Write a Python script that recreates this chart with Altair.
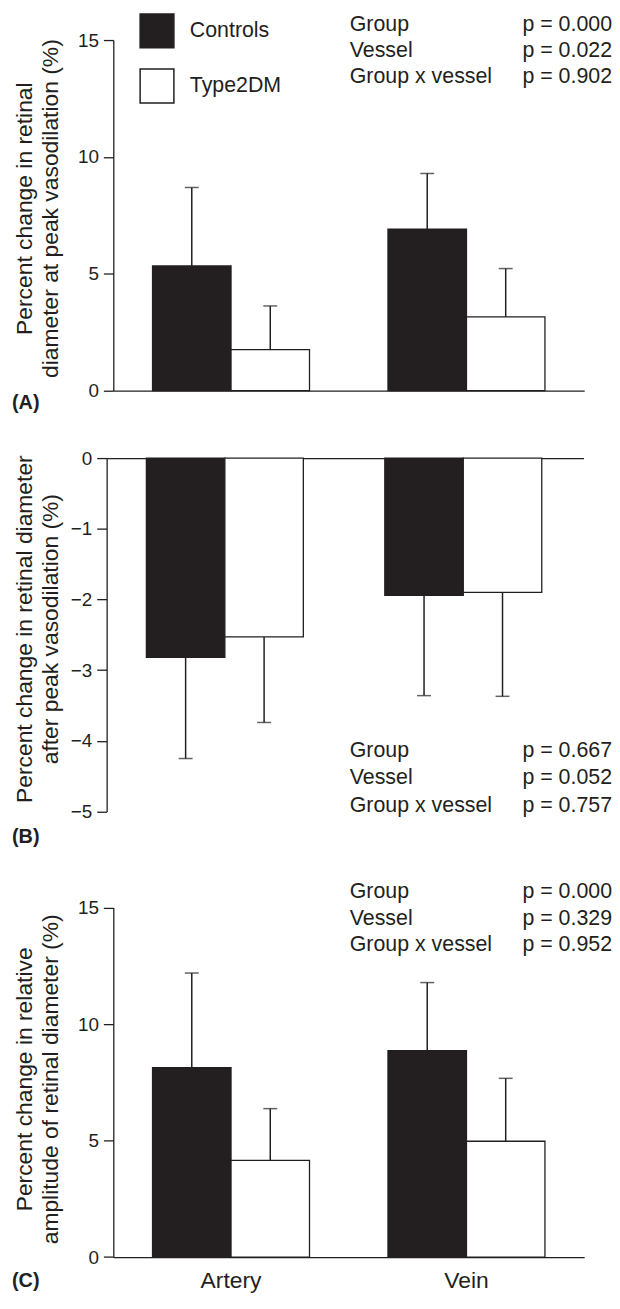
import altair as alt
import pandas as pd

INK = "#231f20"
FONT = "Liberation Sans"

vessels = ["Artery", "Vein"]
groups = ["Controls", "Type2DM"]
effects = ["Group", "Vessel", "Group x vessel"]

# Panel A: percent change at peak vasodilation
a_ctrl_mean = [5.33, 6.91]
a_ctrl_sd = [3.36, 2.38]
a_t2_mean = [1.75, 3.15]
a_t2_sd = [1.87, 2.07]
a_p = ["0.000", "0.022", "0.902"]

# Panel B: percent change after peak vasodilation
b_ctrl_mean = [-2.82, -1.94]
b_ctrl_sd = [1.43, 1.42]
b_t2_mean = [-2.53, -1.90]
b_t2_sd = [1.21, 1.47]
b_p = ["0.667", "0.052", "0.757"]

# Panel C: relative amplitude
c_ctrl_mean = [8.13, 8.86]
c_ctrl_sd = [4.06, 2.92]
c_t2_mean = [4.15, 4.97]
c_t2_sd = [2.22, 2.70]
c_p = ["0.000", "0.329", "0.952"]


def build_df(cm, cs, tm, ts, sign):
    rows = []
    for i, v in enumerate(vessels):
        rows.append({"vessel": v, "group": groups[0], "mean": cm[i], "end": cm[i] + sign * cs[i]})
        rows.append({"vessel": v, "group": groups[1], "mean": tm[i], "end": tm[i] + sign * ts[i]})
    return pd.DataFrame(rows)


def panel(df, ydom, yvals, ytitle, height, yrange, xrange, yoffset, title_x, title_y,
          x_orient, x_labels, legend, pvals, text_y, line_h, tag, tag_y):
    xs_kw = dict(domain=vessels, paddingInner=1 / 3, paddingOuter=1 / 6)
    if xrange is not None:
        xs_kw["range"] = xrange
    xs = alt.Scale(**xs_kw)
    ys_kw = dict(domain=ydom, nice=False, zero=False)
    if yrange is not None:
        ys_kw["range"] = yrange
    ys = alt.Scale(**ys_kw)
    xo = alt.XOffset("group:N", scale=alt.Scale(domain=groups, paddingInner=0, paddingOuter=0))

    xaxis = alt.Axis(orient=x_orient, title=None, labels=x_labels, ticks=False, domain=True,
                     domainColor=INK, domainWidth=1.3, labelFont=FONT, labelFontSize=23,
                     labelColor=INK, labelPadding=12.6, labelAngle=0, grid=False)
    yaxis = alt.Axis(values=yvals, title=ytitle, titleX=title_x, titleY=title_y,
                     titleAlign="center", titleBaseline="alphabetic", titleLineHeight=26,
                     titleFont=FONT, titleFontSize=23, titleFontWeight="normal", titleColor=INK,
                     labelFont=FONT, labelFontSize=19, labelColor=INK, labelPadding=5,
                     tickSize=10, tickWidth=1.3, tickColor=INK, domainColor=INK, domainWidth=1.3,
                     grid=False, offset=yoffset)
    X = alt.X("vessel:N", scale=xs, axis=xaxis, sort=vessels)

    base = alt.Chart(df)
    bars = base.mark_bar(stroke=INK, strokeWidth=1.3).encode(
        x=X,
        xOffset=xo,
        y=alt.Y("mean:Q", scale=ys, axis=yaxis),
        fill=alt.Fill("group:N", scale=alt.Scale(domain=groups, range=[INK, "white"]), legend=legend),
    )
    rules = base.mark_rule(color=INK, strokeWidth=1.5).encode(
        x=X,
        xOffset=xo,
        y=alt.Y("mean:Q", scale=ys, axis=yaxis),
        y2="end:Q",
    )
    caps = base.mark_tick(color=INK, thickness=1.5, size=14, orient="horizontal").encode(
        x=X,
        xOffset=xo,
        y=alt.Y("end:Q", scale=ys, axis=yaxis),
    )
    names = alt.Chart(pd.DataFrame({"t": ["\n".join(effects)]})).mark_text(
        align="left", baseline="alphabetic", lineBreak="\n", lineHeight=line_h,
        font=FONT, fontSize=21.5, color=INK,
    ).encode(x=alt.value(238), y=alt.value(text_y), text="t:N")
    ptxt = alt.Chart(pd.DataFrame({"t": ["\n".join("p = " + p for p in pvals)]})).mark_text(
        align="right", baseline="alphabetic", lineBreak="\n", lineHeight=line_h,
        font=FONT, fontSize=21.5, color=INK,
    ).encode(x=alt.value(502), y=alt.value(text_y), text="t:N")
    tagt = alt.Chart(pd.DataFrame({"t": [tag]})).mark_text(
        align="left", baseline="middle", font=FONT, fontSize=20, fontWeight="bold", color=INK,
    ).encode(x=alt.value(-102), y=alt.value(tag_y), text="t:N")

    return alt.layer(bars, rules, caps, names, ptxt, tagt).properties(width=474, height=height)


legA = alt.Legend(orient="none", legendX=26, legendY=-27.3, title=None, symbolType="square",
                  symbolSize=1156, symbolStrokeColor=INK, symbolStrokeWidth=1.5, symbolOpacity=1,
                  labelFont=FONT, labelFontSize=21.5, labelColor=INK, labelOffset=15,
                  rowPadding=15.55, padding=0, direction="vertical")

A = panel(build_df(a_ctrl_mean, a_ctrl_sd, a_t2_mean, a_t2_sd, 1), [0, 15], [0, 5, 10, 15],
          ["Percent change in retinal", "diameter at peak vasodilation (%)"],
          352.8, None, None, 0, -82, 169.2, "bottom", False, legA, a_p, -8.72, 26.0, "(A)", 365.4)

B = panel(build_df(b_ctrl_mean, b_ctrl_sd, b_t2_mean, b_t2_sd, -1), [-5, 0], [-5, -4, -3, -2, -1, 0],
          ["Percent change in retinal diameter", "after peak vasodilation (%)"],
          355.8, None, [-6.7, 473.3], 6.7, -75.3, 171.7, "top", False, None, b_p, 301.3, 27.26, "(B)", 381.8)

C = panel(build_df(c_ctrl_mean, c_ctrl_sd, c_t2_mean, c_t2_sd, 1), [0, 15], [0, 5, 10, 15],
          ["Percent change in relative", "amplitude of retinal diameter (%)"],
          380.46, [380.46, 28.63], None, 0, -82, 201.1, "bottom", True, None, c_p, 18.95, 26.8, "(C)", 404.95)

chart = alt.vconcat(A, B, C, spacing=67.8, bounds="flush").resolve_scale(
    fill="independent"
).resolve_legend(fill="independent").properties(
    padding={"left": 4, "top": 0, "right": 0, "bottom": 0}, background="white"
).configure_view(stroke=None)

chart.save("out.html", embed_options={"renderer": "svg", "actions": False})
